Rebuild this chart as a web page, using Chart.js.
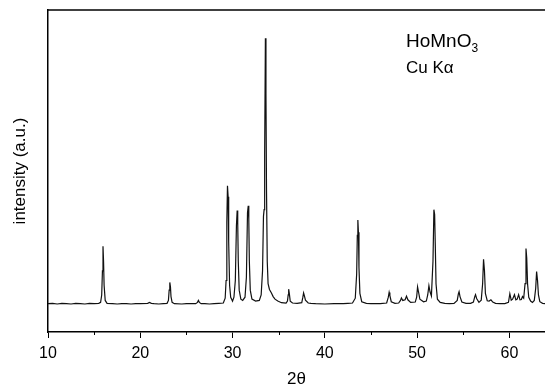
<!DOCTYPE html>
<html>
<head>
<meta charset="utf-8">
<script src="https://cdn.jsdelivr.net/npm/chart.js"></script>
<style>
  html, body { margin: 0; padding: 0; background: #fff; }
  #wrap { position: relative; width: 545px; height: 390px; }
  .note { position: absolute; left: 406px; font-family: "Liberation Sans", Arial, sans-serif; color: #000; line-height: 1; white-space: nowrap; }
  #formula { top: 31px; font-size: 19px; }
  #formula sub { font-size: 12px; vertical-align: -5px; }
  #source { top: 59px; font-size: 17px; }
</style>
</head>
<body>
<div id="wrap">
  <canvas id="xrd" width="545" height="390"></canvas>
  <div class="note" id="formula">HoMnO<sub>3</sub></div>
  <div class="note" id="source">Cu Kα</div>
</div>
<script>
// 2θ 位置 (度)
const twoTheta = [
  10.0, 10.5, 11.0, 11.5, 12.0, 12.5, 13.0, 13.5, 14.0, 14.5, 15.0, 15.5, 15.7,
  15.82, 15.9, 15.96, 16.02, 16.08, 16.2, 16.4, 17.0, 17.5, 18.0, 18.5, 19.0, 19.5,
  20.0, 20.8, 21.0, 21.2, 21.5, 22.0, 22.5, 22.9, 23.05, 23.13, 23.2, 23.27, 23.33,
  23.45, 23.7, 24.5, 25.0, 25.5, 26.0, 26.2, 26.3, 26.4, 26.6, 27.0, 27.5, 28.0,
  28.5, 29.0, 29.2, 29.3, 29.38, 29.45, 29.52, 29.58, 29.68, 29.8, 30.0, 30.15,
  30.3, 30.42, 30.5, 30.56, 30.62, 30.72, 30.9, 31.1, 31.35, 31.5, 31.62, 31.7,
  31.76, 31.82, 31.92, 32.1, 32.5, 32.9, 33.1, 33.25, 33.35, 33.42, 33.48, 33.56,
  33.62, 33.68, 33.76, 33.85, 34.0, 34.2, 34.4, 34.6, 34.9, 35.3, 35.8, 35.95,
  36.03, 36.08, 36.15, 36.25, 36.5, 37.0, 37.5, 37.62, 37.7, 37.78, 37.9, 38.2,
  38.5, 39.0, 40.0, 41.0, 42.0, 42.5, 43.0, 43.3, 43.45, 43.52, 43.58, 43.64,
  43.7, 43.8, 44.0, 44.5, 45.0, 46.0, 46.7, 46.88, 46.97, 47.05, 47.2, 47.6, 48.0,
  48.2, 48.3, 48.45, 48.7, 48.85, 49.0, 49.3, 49.8, 49.95, 50.05, 50.15, 50.3,
  50.7, 51.0, 51.15, 51.28, 51.4, 51.55, 51.72, 51.82, 51.9, 51.97, 52.05, 52.2,
  52.5, 53.0, 53.5, 54.0, 54.35, 54.47, 54.55, 54.65, 54.85, 55.3, 55.8, 56.1,
  56.25, 56.33, 56.45, 56.7, 56.95, 57.1, 57.2, 57.3, 57.4, 57.6, 57.8, 58.0,
  58.2, 58.5, 59.0, 59.5, 59.9, 60.05, 60.2, 60.35, 60.55, 60.7, 60.85, 61.0,
  61.15, 61.3, 61.42, 61.55, 61.7, 61.8, 61.88, 61.97, 62.1, 62.3, 62.5, 62.7,
  62.85, 62.95, 63.05, 63.15, 63.3, 63.6, 64.0
];

// 强度 (a.u.)
const intensity = [
  8.8, 8.9, 8.7, 8.9, 8.8, 8.7, 8.9, 8.8, 8.7, 8.9, 8.8, 8.9, 9.2,
  11.5, 19.0, 26.6, 22.0, 14.5, 9.8, 8.9, 8.8, 8.7, 8.8, 8.8, 8.7, 8.8,
  8.8, 8.9, 9.2, 8.9, 8.8, 8.7, 8.8, 8.9, 9.8, 13.0, 15.4, 14.0, 11.0,
  9.2, 8.8, 8.7, 8.8, 8.8, 8.8, 9.2, 9.8, 9.2, 8.8, 8.8, 8.7, 8.8,
  8.9, 9.0, 10.5, 16.0, 34.0, 45.4, 42.0, 28.0, 14.5, 10.8, 9.6, 10.8,
  16.0, 33.0, 37.7, 34.0, 22.0, 13.0, 10.2, 9.8, 10.8, 17.0, 37.0, 39.2,
  35.0, 22.0, 13.0, 10.2, 9.6, 9.8, 11.5, 19.0, 35.9, 38.0, 55.0, 91.2,
  74.0, 44.0, 22.0, 15.0, 13.2, 12.2, 11.0, 10.2, 9.6, 9.1, 9.0, 9.6,
  11.5, 13.3, 12.0, 9.6, 9.0, 8.9, 9.1, 10.8, 12.1, 11.3, 9.9, 9.0,
  8.9, 8.8, 8.7, 8.8, 8.8, 8.9, 9.0, 10.5, 18.0, 30.0, 34.8, 31.0,
  20.0, 12.0, 9.4, 8.9, 8.8, 8.8, 9.0, 10.8, 12.3, 11.3, 9.4, 8.9, 9.0,
  9.8, 10.6, 9.8, 10.0, 11.1, 10.0, 9.2, 9.3, 10.8, 14.0, 12.5, 10.2,
  9.4, 9.6, 11.5, 14.4, 12.5, 11.2, 22.0, 38.0, 36.5, 27.0, 15.0, 10.2,
  9.2, 8.9, 8.8, 8.9, 9.8, 11.8, 12.5, 11.0, 9.3, 8.9, 8.9, 9.3,
  11.0, 11.6, 10.4, 9.2, 9.9, 15.0, 22.6, 19.0, 12.0, 9.7, 9.6, 10.0,
  9.3, 8.9, 8.8, 8.8, 9.2, 11.9, 9.9, 10.2, 11.6, 10.0, 10.2, 11.6,
  10.0, 10.1, 11.0, 10.5, 15.0, 25.9, 23.0, 15.0, 10.8, 9.6, 9.2, 9.8,
  13.5, 18.8, 16.0, 11.5, 9.4, 8.9, 8.8
];

// 坐标轴刻度
const majorTicks = [10, 20, 30, 40, 50, 60];
const minorTicks = [15, 25, 35, 45, 55];

const FONT = '"Liberation Sans", Arial, sans-serif';

// 次刻度 + 顶部边框
const framePlugin = {
  id: 'frame',
  afterDraw(chart) {
    const { ctx, chartArea } = chart;
    const xs = chart.scales.x;
    ctx.save();
    ctx.strokeStyle = '#000';
    ctx.lineWidth = 1.5;
    ctx.beginPath();
    ctx.moveTo(chartArea.left, chartArea.top);
    ctx.lineTo(chartArea.right, chartArea.top);
    ctx.stroke();
    ctx.lineWidth = 1;
    minorTicks.forEach(v => {
      const px = Math.round(xs.getPixelForValue(v)) + 0.5;
      ctx.beginPath();
      ctx.moveTo(px, chartArea.bottom);
      ctx.lineTo(px, chartArea.bottom + 3);
      ctx.stroke();
    });
    ctx.restore();
  }
};

new Chart(document.getElementById('xrd'), {
  type: 'scatter',
  data: {
    datasets: [{
      label: 'HoMnO3',
      data: twoTheta.map((t, i) => ({ x: t, y: intensity[i] })),
      showLine: true,
      borderColor: '#111',
      borderWidth: 1.2,
      pointRadius: 0,
      tension: 0
    }]
  },
  options: {
    responsive: false,
    animation: false,
    events: [],
    layout: { padding: { top: 10, right: 0, left: 0, bottom: 0 } },
    plugins: {
      legend: { display: false },
      tooltip: { enabled: false }
    },
    scales: {
      x: {
        type: 'linear',
        min: 10,
        max: 63.86,
        afterFit: s => { s.height = 58; },
        afterBuildTicks: s => { s.ticks = majorTicks.map(v => ({ value: v })); },
        ticks: {
          includeBounds: false,
          color: '#000',
          font: { family: FONT, size: 16 },
          padding: 6,
          maxRotation: 0
        },
        grid: { drawOnChartArea: false, tickLength: 6, color: '#000', tickWidth: 1 },
        border: { color: '#000', width: 1.5 },
        title: {
          display: true,
          text: '2θ',
          color: '#000',
          font: { family: FONT, size: 17 },
          padding: { top: 2, bottom: 0 }
        }
      },
      y: {
        min: 0,
        max: 100,
        afterFit: s => { s.width = 48; },
        ticks: { display: false },
        grid: { display: false },
        border: { color: '#000', width: 1.5 },
        title: {
          display: true,
          text: 'intensity (a.u.)',
          color: '#000',
          font: { family: FONT, size: 17 },
          padding: { top: 10, bottom: 0 }
        }
      }
    }
  },
  plugins: [framePlugin]
});
</script>
</body>
</html>
